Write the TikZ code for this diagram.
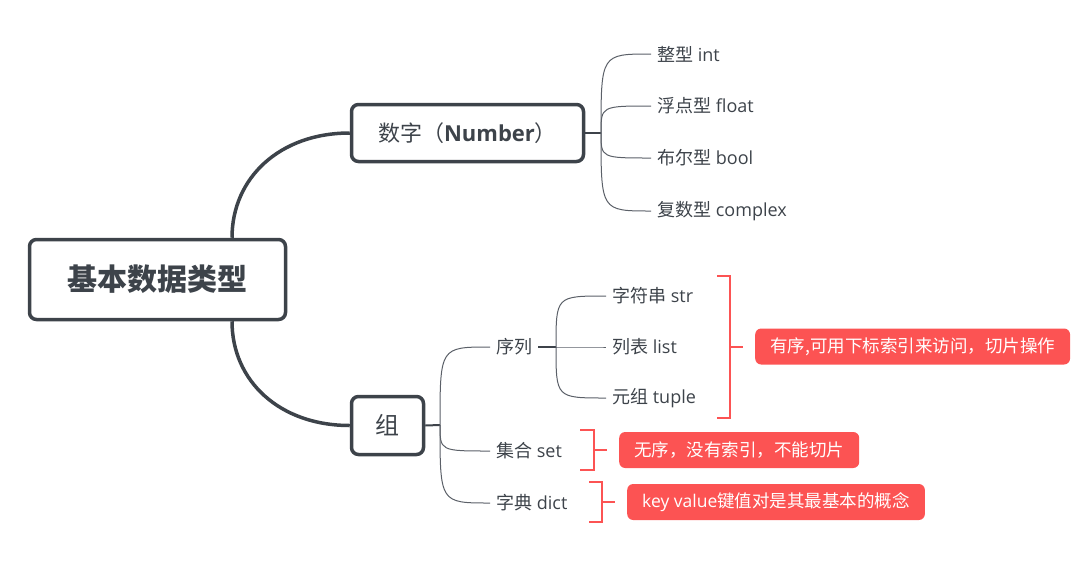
\documentclass[tikz,border=0pt]{standalone}
\usepackage{fontspec}
\setmainfont{Open Sans}
\newfontfamily\zh{Noto Sans CJK SC}
\usetikzlibrary{positioning,calc}
\definecolor{mmgray}{HTML}{3D434A}
\definecolor{mmline}{HTML}{5B6068}
\definecolor{mmred}{HTML}{FC5353}

\begin{document}
\begin{tikzpicture}[x=1pt,y=-1pt,
  topic/.style={draw=mmgray,line width=3.5pt,rounded corners=7pt,text=mmgray,inner sep=0pt},
  leaf/.style={anchor=west,inner xsep=6pt,inner ysep=2pt,text=mmgray,font=\fontsize{18}{21}\selectfont},
  branch/.style={mmgray,line width=3.5pt},
  stem/.style={mmgray,line width=2pt},
  twig/.style={mmline,line width=1pt},
  note/.style={anchor=west,fill=mmred,rounded corners=6pt,text=white,minimum height=36pt,inner xsep=15pt,font=\fontsize{17.5}{20}\selectfont},
  brk/.style={mmred,line width=2.5pt}]
   \useasboundingbox (0,0) rectangle (1092,574);

   \node[topic,minimum width=256pt,minimum height=80pt,font=\fontsize{30}{36}\selectfont\bfseries] (root) at (157.5,279.5) {\zh 基本数据类型};
   \node[topic,minimum width=232pt,minimum height=57pt,font=\fontsize{22}{26}\selectfont] (num) at (467.5,133) {{\zh 数字（}\textbf{Number}{\zh ）}};
   \node[topic,minimum width=72pt,minimum height=58pt,font=\fontsize{24}{28}\selectfont] (grp) at (387.5,425.5) {\zh 组};

   \coordinate (jn) at (601,133);
   \coordinate (jg) at (440,425);
   \coordinate (js) at (556,347);

   \node[leaf] (int) at (651,54) {{\zh 整型} int};
   \node[leaf] (float) [below=52pt of int.west,anchor=west] {{\zh 浮点型} float};
   \node[leaf] (bool) [below=52pt of float.west,anchor=west] {{\zh 布尔型} bool};
   \node[leaf] (cplx) [below=53pt of bool.west,anchor=west] {{\zh 复数型} complex};

   \node[leaf] (seq) at (490,347) {\zh 序列};
   \node[leaf] (set) at (490,451) {{\zh 集合} set};
   \node[leaf] (dict) [below=52pt of set.west,anchor=west] {{\zh 字典} dict};

   \node[leaf] (str) at (606,296) {{\zh 字符串} str};
   \node[leaf] (list) [below=51pt of str.west,anchor=west] {{\zh 列表} list};
   \node[leaf] (tuple) [below=51pt of list.west,anchor=west] {{\zh 元组} tuple};

   \node[note] (n1) at (755,346.5) {\zh 有序,可用下标索引来访问，切片操作};
   \node[note] (n2) at (619,450) {\zh 无序，没有索引，不能切片};
   \node[note] (n3) at (627,502) {key value{\zh 键值对是其最基本的概念}};

   \draw[branch] ([xshift=74.5pt]root.north) .. controls +(0,-60) and +(-70,0) .. (num.west);
   \draw[branch] ([xshift=74.5pt]root.south) .. controls +(0,60) and +(-70,0) .. (grp.west);

   \draw[stem] (num.east) -- (jn);
   \foreach \c in {int,float,bool,cplx}
      \draw[twig] (jn) .. controls (jn |- \c.west) .. (\c.west);
   \draw[stem] (grp.east) -- (jg);
   \foreach \c in {seq,set,dict}
      \draw[twig] (jg) .. controls (jg |- \c.west) .. (\c.west);
   \draw[stem] (seq.east) -- (js);
   \foreach \c in {str,list,tuple}
      \draw[twig] (js) .. controls (js |- \c.west) .. (\c.west);

   \draw[brk] (717,276) -- (730,276) -- (730,418) -- (717,418);
   \draw[brk] (730,347) -- (743,347);
   \draw[brk] (580,430) -- (594,430) -- (594,470) -- (580,470);
   \draw[brk] (594,450) -- (607,450);
   \draw[brk] (589,482) -- (602,482) -- (602,522) -- (589,522);
   \draw[brk] (602,502) -- (615,502);
\end{tikzpicture}
\end{document}
